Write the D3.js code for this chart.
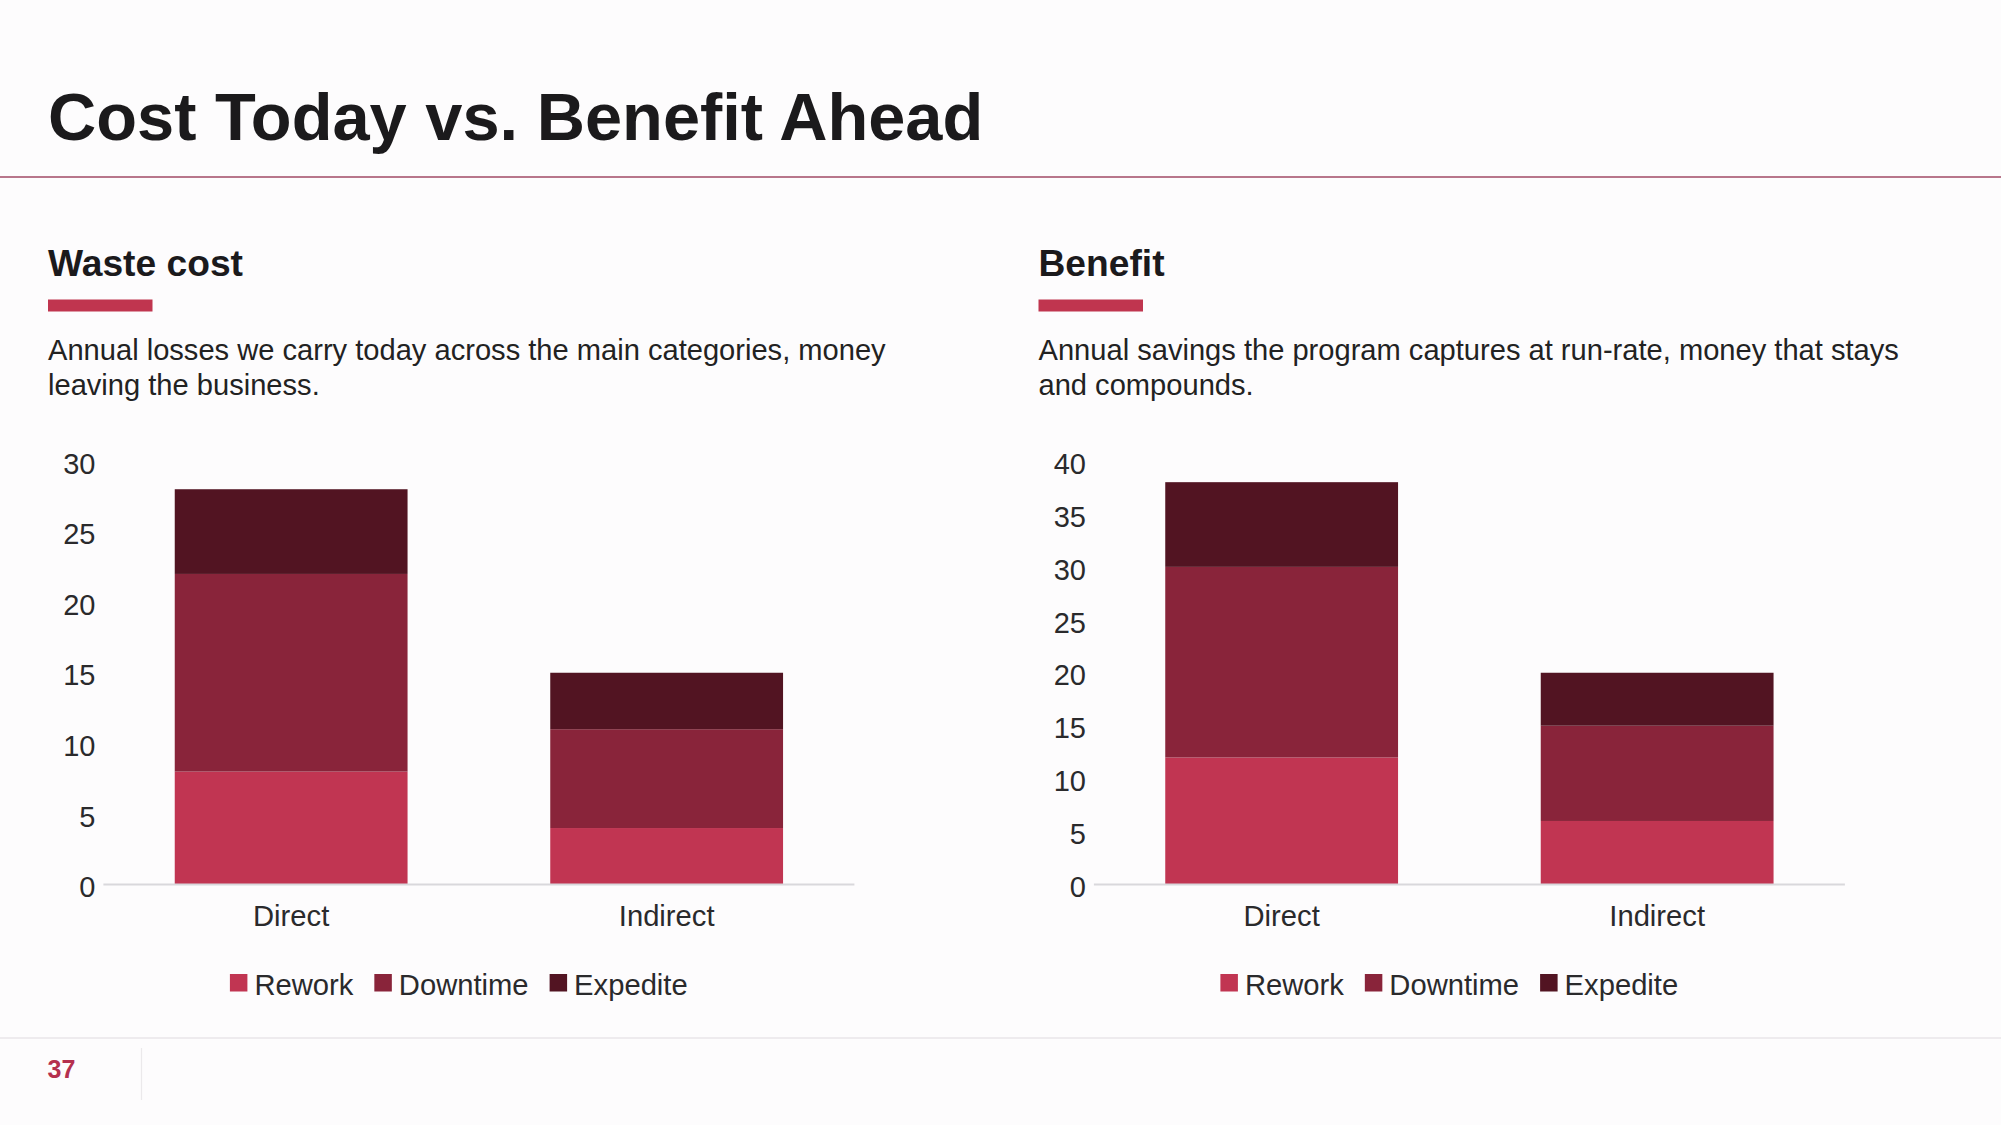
<!DOCTYPE html>
<html>
<head>
<meta charset="utf-8">
<script src="https://cdn.jsdelivr.net/npm/d3@7"></script>
<style>
  html, body { margin: 0; padding: 0; background: #fdfcfd; }
  svg { display: block; font-family: "Liberation Sans", Arial, Helvetica, sans-serif; }
</style>
</head>
<body>
<div id="slide"></div>
<script>
// chart data
var categories = ["Direct", "Indirect"];
var seriesNames = ["Rework", "Downtime", "Expedite"];

// waste cost (left chart)
var wasteRework = [8, 4];
var wasteDowntime = [14, 7];
var wasteExpedite = [6, 4];
var wasteTicks = [0, 5, 10, 15, 20, 25, 30];

// benefit (right chart)
var benefitRework = [12, 6];
var benefitDowntime = [18, 9];
var benefitExpedite = [8, 5];
var benefitTicks = [0, 5, 10, 15, 20, 25, 30, 35, 40];

var colors = ["#c13552", "#89243a", "#521422"];

var width = 2001;
var height = 1125;

var svg = d3
  .select("#slide")
  .append("svg")
  .attr("width", width)
  .attr("height", height);

svg.append("rect")
  .attr("width", width)
  .attr("height", height)
  .attr("fill", "#fdfcfd");

//slide title
svg.append("text")
  .attr("x", 48)
  .attr("y", 140)
  .attr("font-size", 66.8)
  .attr("font-weight", "bold")
  .attr("fill", "#1b1a1c")
  .text("Cost Today vs. Benefit Ahead");

svg.append("line")
  .attr("x1", 0)
  .attr("x2", width)
  .attr("y1", 177)
  .attr("y2", 177)
  .attr("stroke", "#a04a64")
  .attr("stroke-width", 1.5);

//footer
svg.append("line")
  .attr("x1", 0)
  .attr("x2", width)
  .attr("y1", 1038)
  .attr("y2", 1038)
  .attr("stroke", "#e8e6e8")
  .attr("stroke-width", 1.5);

svg.append("line")
  .attr("x1", 141.5)
  .attr("x2", 141.5)
  .attr("y1", 1048)
  .attr("y2", 1100)
  .attr("stroke", "#ebe9eb")
  .attr("stroke-width", 1.2);

svg.append("text")
  .attr("x", 47.5)
  .attr("y", 1078)
  .attr("font-size", 25)
  .attr("font-weight", "bold")
  .attr("fill", "#b5304e")
  .text("37");

//build one panel: heading, accent bar, description and stacked bars
function drawPanel(left, heading, lines, rework, downtime, expedite, ticks) {
  var g = svg.append("g");

  g.append("text")
    .attr("x", left)
    .attr("y", 276)
    .attr("font-size", 37.2)
    .attr("font-weight", "bold")
    .attr("fill", "#1b1a1c")
    .text(heading);

  g.append("rect")
    .attr("x", left)
    .attr("y", 299.5)
    .attr("width", 104.5)
    .attr("height", 12)
    .attr("fill", "#c0354f");

  var desc = g.append("text")
    .attr("font-size", 29.1)
    .attr("fill", "#222222");
  lines.forEach(function(line, i) {
    desc.append("tspan")
      .attr("x", left)
      .attr("y", 360 + i * 34.5)
      .text(line);
  });

  // rows for d3.stack
  var rows = categories.map(function(c, i) {
    return { cat: c, Rework: rework[i], Downtime: downtime[i], Expedite: expedite[i] };
  });
  var stacked = d3.stack().keys(seriesNames)(rows);

  var x0 = left + 55.4;
  var x1 = x0 + 751;
  var xScale = d3.scaleBand()
    .domain(categories)
    .range([x0, x1])
    .paddingInner(0.38)
    .paddingOuter(0.19);
  var yScale = d3.scaleLinear()
    .domain([0, d3.max(ticks)])
    .range([884.5, 461]);

  // bars
  g.selectAll("g.layer")
    .data(stacked)
    .enter()
    .append("g")
    .attr("class", "layer")
    .attr("fill", function(d, i) { return colors[i]; })
    .selectAll("rect")
    .data(function(d) { return d; })
    .enter()
    .append("rect")
    .attr("x", function(d) { return xScale(d.data.cat); })
    .attr("width", xScale.bandwidth())
    .attr("y", function(d) { return yScale(d[1]); })
    .attr("height", function(d) { return yScale(d[0]) - yScale(d[1]); });

  // baseline
  g.append("line")
    .attr("x1", x0)
    .attr("x2", x1)
    .attr("y1", yScale(0))
    .attr("y2", yScale(0))
    .attr("stroke", "#d9d8dc")
    .attr("stroke-width", 2);

  // y axis labels (no line, no tick marks)
  var yAxis = d3.axisLeft(yScale)
    .tickValues(ticks)
    .tickSize(0)
    .tickPadding(8);
  var yG = g.append("g")
    .attr("transform", "translate(" + x0 + ",0)")
    .call(yAxis);
  yG.select(".domain").remove();
  yG.selectAll("text")
    .attr("font-size", 29)
    .attr("font-family", "Liberation Sans, Arial, sans-serif")
    .attr("fill", "#2a2a2c")
    .attr("dy", "0.42em");

  // x axis labels
  var xAxis = d3.axisBottom(xScale).tickSize(0).tickPadding(0);
  var xG = g.append("g")
    .attr("transform", "translate(0," + yScale(0) + ")")
    .call(xAxis);
  xG.select(".domain").remove();
  xG.selectAll("text")
    .attr("font-size", 29.2)
    .attr("font-family", "Liberation Sans, Arial, sans-serif")
    .attr("fill", "#2a2a2c")
    .attr("dy", 0)
    .attr("y", 41.5);

  // legend, centred under the chart
  var legend = g.append("g");
  var cursor = 0;
  seriesNames.forEach(function(name, i) {
    var item = legend.append("g").attr("transform", "translate(" + cursor + ",0)");
    item.append("rect")
      .attr("x", 0)
      .attr("y", 974)
      .attr("width", 17.5)
      .attr("height", 17.5)
      .attr("fill", colors[i]);
    var t = item.append("text")
      .attr("x", 24.5)
      .attr("y", 995)
      .attr("font-size", 29.2)
      .attr("fill", "#2a2a2c")
      .text(name);
    cursor += 24.5 + t.node().getComputedTextLength() + 21;
  });
  var legendWidth = cursor - 21;
  legend.attr("transform", "translate(" + (x0 + 355.4 - legendWidth / 2) + ",0)");
}

drawPanel(48, "Waste cost",
  ["Annual losses we carry today across the main categories, money", "leaving the business."],
  wasteRework, wasteDowntime, wasteExpedite, wasteTicks);

drawPanel(1038.5, "Benefit",
  ["Annual savings the program captures at run-rate, money that stays", "and compounds."],
  benefitRework, benefitDowntime, benefitExpedite, benefitTicks);
</script>
</body>
</html>
